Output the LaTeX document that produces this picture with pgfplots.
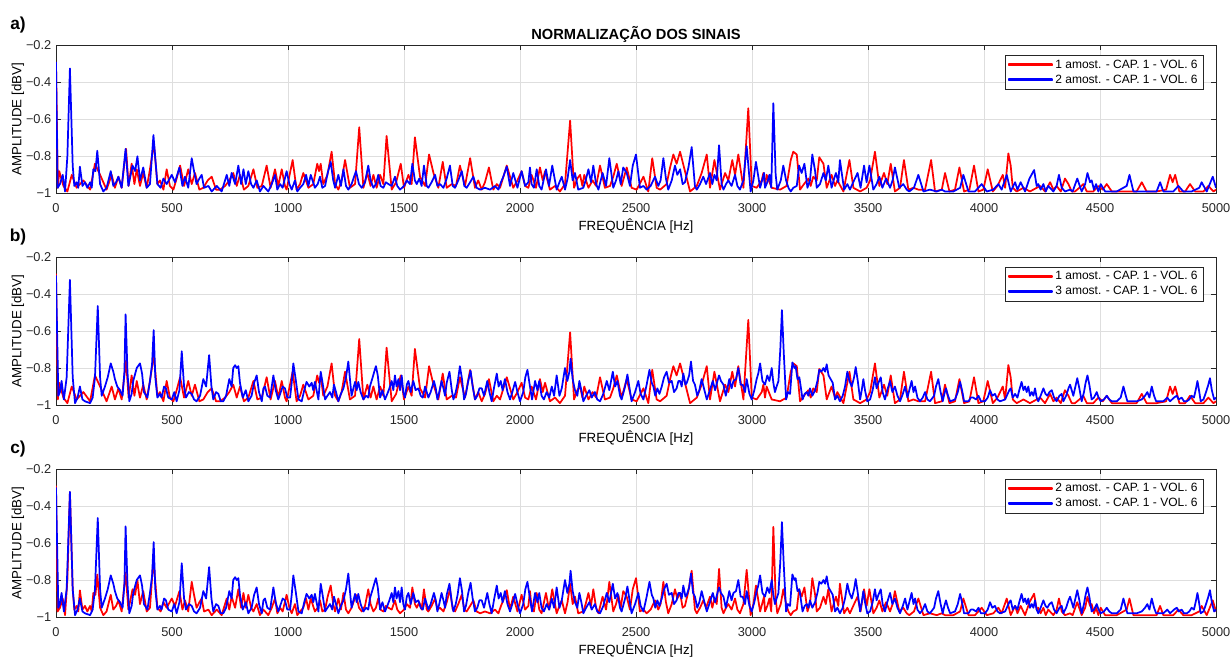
\documentclass[border=0pt]{standalone}
\usepackage{pgfplots}
\usepackage{pgfplotstable}
\pgfplotsset{compat=1.18}
\usepackage{fontspec}
\setmainfont{Liberation Sans}

% sample 1 (cap. 1, vol. 6)
\pgfplotstableread[row sep=\\]{
x y\\ 0 -0.29\\ 8 -0.97\\ 14 -0.88\\ 32 -0.96\\ 49 -0.99\\ 68 -0.90\\ 89 -0.97\\ 118 -0.93\\ 147 -0.98\\ 168 -0.84\\ 190 -0.90\\ 218 -0.98\\ 240 -0.90\\ 254 -0.97\\ 269 -0.91\\ 283 -0.97\\ 302 -0.76\\ 313 -0.96\\ 326 -0.84\\ 338 -0.95\\ 348 -0.87\\ 362 -0.96\\ 376 -0.89\\ 391 -0.97\\ 405 -0.87\\ 422 -0.73\\ 437 -0.95\\ 448 -0.93\\ 463 -0.98\\ 477 -0.87\\ 491 -0.96\\ 506 -0.98\\ 520 -0.92\\ 535 -0.85\\ 552 -0.96\\ 570 -0.87\\ 585 -0.95\\ 599 -0.89\\ 618 -0.98\\ 635 -0.97\\ 654 -0.93\\ 671 -0.91\\ 690 -0.98\\ 707 -0.98\\ 729 -0.96\\ 747 -0.93\\ 764 -0.89\\ 779 -0.96\\ 793 -0.90\\ 810 -0.98\\ 829 -0.96\\ 851 -0.87\\ 868 -0.97\\ 887 -0.96\\ 908 -0.85\\ 925 -0.97\\ 944 -0.87\\ 958 -0.96\\ 973 -0.87\\ 987 -0.96\\
994 -0.98\\ 1020 -0.82\\ 1037 -0.98\\ 1052 -0.95\\ 1066 -0.89\\ 1088 -0.97\\ 1109 -0.95\\ 1126 -0.84\\ 1134 -0.88\\ 1141 -0.84\\ 1152 -0.95\\ 1170 -0.90\\ 1188 -0.775\\ 1203 -0.95\\ 1217 -0.98\\ 1231 -0.93\\ 1246 -0.82\\ 1267 -0.97\\ 1289 -0.95\\ 1307 -0.643\\ 1325 -0.97\\ 1342 -0.89\\ 1356 -0.96\\ 1368 -0.90\\ 1382 -0.97\\ 1397 -0.90\\ 1411 -0.95\\ 1425 -0.69\\ 1447 -0.98\\ 1466 -0.94\\ 1486 -0.84\\ 1500 -0.97\\ 1519 -0.90\\ 1533 -0.95\\ 1547 -0.697\\ 1569 -0.91\\ 1591 -0.96\\ 1608 -0.79\\ 1627 -0.89\\ 1648 -0.97\\ 1667 -0.83\\ 1684 -0.97\\ 1706 -0.95\\ 1724 -0.96\\ 1741 -0.85\\ 1763 -0.96\\ 1785 -0.81\\ 1806 -0.97\\ 1820 -0.93\\ 1835 -0.98\\ 1849 -0.94\\ 1866 -0.86\\ 1885 -0.98\\ 1900 -0.95\\ 1914 -0.97\\ 1943 -0.85\\ 1971 -0.97\\ 1989 -0.93\\ 2007 -0.88\\ 2022 -0.96\\ 2036 -0.97\\
2050 -0.90\\ 2069 -0.97\\ 2086 -0.86\\ 2098 -0.93\\ 2108 -0.88\\ 2129 -0.98\\ 2151 -0.96\\ 2172 -0.99\\ 2194 -0.95\\ 2216 -0.607\\ 2233 -0.97\\ 2247 -0.92\\ 2259 -0.90\\ 2269 -0.96\\ 2277 -0.90\\ 2295 -0.97\\ 2313 -0.93\\ 2328 -0.96\\ 2345 -0.85\\ 2366 -0.97\\ 2388 -0.96\\ 2402 -0.91\\ 2417 -0.84\\ 2438 -0.96\\ 2460 -0.86\\ 2481 -0.97\\ 2503 -0.98\\ 2532 -0.91\\ 2553 -0.99\\ 2570 -0.81\\ 2589 -0.97\\ 2604 -0.98\\ 2632 -0.95\\ 2647 -0.86\\ 2661 -0.79\\ 2675 -0.84\\ 2690 -0.775\\ 2711 -0.88\\ 2733 -0.99\\ 2762 -0.96\\ 2783 -0.89\\ 2805 -0.79\\ 2819 -0.97\\ 2838 -0.82\\ 2862 -0.98\\ 2884 -0.89\\ 2898 -0.93\\ 2915 -0.82\\ 2927 -0.90\\ 2941 -0.79\\ 2963 -0.97\\ 2984 -0.54\\ 2999 -0.96\\ 3020 -0.97\\ 3042 -0.93\\
3049 -0.89\\ 3056 -0.96\\ 3063 -0.90\\ 3085 -0.97\\ 3121 -0.98\\ 3149 -0.96\\ 3167 -0.82\\ 3178 -0.775\\ 3193 -0.79\\ 3207 -0.98\\ 3224 -0.95\\ 3243 -0.92\\ 3253 -0.96\\ 3264 -0.91\\ 3279 -0.93\\ 3290 -0.805\\ 3308 -0.84\\ 3322 -0.97\\ 3343 -0.90\\ 3358 -0.96\\ 3368 -0.93\\ 3394 -0.99\\ 3420 -0.82\\ 3437 -0.97\\ 3466 -0.99\\ 3494 -0.97\\ 3509 -0.93\\ 3530 -0.775\\ 3549 -0.96\\ 3569 -0.89\\ 3583 -0.95\\ 3598 -0.84\\ 3616 -0.99\\ 3638 -0.97\\ 3655 -0.82\\ 3674 -0.98\\ 3696 -0.97\\ 3717 -0.98\\ 3746 -0.98\\ 3772 -0.82\\ 3789 -0.99\\ 3818 -0.98\\ 3832 -0.89\\ 3851 -0.99\\ 3875 -0.98\\ 3894 -0.86\\ 3914 -0.99\\ 3937 -0.98\\ 3957 -0.85\\ 3976 -0.99\\ 3997 -0.98\\ 4016 -0.87\\ 4038 -0.99\\ 4058 -0.96\\ 4081 -0.90\\ 4091 -0.97\\
4105 -0.784\\ 4115 -0.85\\ 4124 -0.97\\ 4141 -0.99\\ 4170 -0.97\\ 4198 -0.99\\ 4242 -0.96\\ 4263 -0.99\\ 4285 -0.94\\ 4299 -0.98\\ 4313 -0.96\\ 4331 -0.99\\ 4349 -0.92\\ 4364 -0.95\\ 4378 -0.99\\ 4392 -0.99\\ 4411 -0.97\\ 4428 -0.95\\ 4443 -0.99\\ 4471 -0.99\\ 4493 -0.96\\ 4512 -0.98\\ 4529 -0.95\\ 4551 -0.99\\ 4601 -0.99\\ 4658 -0.99\\ 4680 -0.94\\ 4701 -0.99\\ 4744 -0.99\\ 4785 -0.98\\ 4802 -0.90\\ 4813 -0.94\\ 4824 -0.90\\ 4842 -0.99\\ 4867 -0.99\\ 4888 -0.95\\ 4910 -0.99\\ 4946 -0.99\\ 4967 -0.96\\ 4989 -0.99\\ 5000 -0.98\\
}\sampleA

% sample 2 (cap. 1, vol. 6)
\pgfplotstableread[row sep=\\]{
x y\\ 0 -0.29\\ 7 -0.97\\ 17 -0.95\\ 29 -0.90\\ 39 -0.99\\ 49 -0.80\\ 60 -0.325\\ 72 -0.85\\ 79 -0.96\\ 89 -0.94\\ 96 -0.97\\ 103 -0.856\\ 114 -0.96\\ 125 -0.94\\ 135 -0.97\\ 147 -0.94\\ 154 -0.97\\ 161 -0.87\\ 170 -0.88\\ 178 -0.77\\ 190 -0.95\\ 204 -0.99\\ 218 -0.97\\ 236 -0.88\\ 247 -0.96\\ 259 -0.94\\ 269 -0.91\\ 283 -0.97\\ 300 -0.76\\ 312 -0.96\\ 322 -0.90\\ 330 -0.85\\ 341 -0.88\\ 351 -0.80\\ 362 -0.93\\ 376 -0.86\\ 391 -0.97\\ 405 -0.95\\ 420 -0.685\\ 437 -0.95\\ 451 -0.97\\ 463 -0.92\\ 477 -0.95\\ 499 -0.90\\ 513 -0.94\\ 532 -0.86\\ 545 -0.96\\ 556 -0.91\\ 570 -0.97\\ 585 -0.81\\ 595 -0.88\\ 606 -0.95\\ 618 -0.92\\ 628 -0.90\\ 638 -0.97\\ 657 -0.96\\ 671 -0.99\\ 693 -0.96\\ 714 -0.99\\ 736 -0.90\\ 747 -0.96\\ 757 -0.89\\ 772 -0.95\\ 786 -0.85\\ 798 -0.95\\ 808 -0.87\\ 818 -0.95\\ 829 -0.88\\ 841 -0.95\\ 851 -0.97\\ 865 -0.93\\ 879 -0.99\\ 894 -0.96\\ 915 -0.99\\ 930 -0.95\\ 944 -0.90\\ 954 -0.98\\ 966 -0.95\\ 977 -0.97\\ 994 -0.88\\
1006 -0.95\\ 1016 -0.98\\ 1030 -0.93\\ 1040 -0.99\\ 1052 -0.97\\ 1066 -0.95\\ 1078 -0.90\\ 1088 -0.96\\ 1098 -0.90\\ 1116 -0.97\\ 1128 -0.95\\ 1138 -0.91\\ 1148 -0.97\\ 1160 -0.96\\ 1171 -0.89\\ 1184 -0.83\\ 1195 -0.93\\ 1203 -0.97\\ 1217 -0.90\\ 1228 -0.96\\ 1239 -0.87\\ 1250 -0.96\\ 1260 -0.98\\ 1274 -0.95\\ 1293 -0.88\\ 1306 -0.95\\ 1318 -0.97\\ 1332 -0.94\\ 1346 -0.85\\ 1356 -0.93\\ 1368 -0.97\\ 1379 -0.95\\ 1389 -0.90\\ 1399 -0.96\\ 1411 -0.97\\ 1422 -0.94\\ 1433 -0.95\\ 1447 -0.96\\ 1461 -0.91\\ 1471 -0.96\\ 1483 -0.98\\ 1500 -0.96\\ 1512 -0.93\\ 1526 -0.95\\ 1536 -0.84\\ 1547 -0.93\\ 1555 -0.95\\ 1566 -0.92\\ 1576 -0.96\\ 1586 -0.85\\ 1598 -0.96\\ 1605 -0.97\\ 1619 -0.94\\ 1634 -0.90\\ 1644 -0.96\\ 1655 -0.95\\ 1670 -0.97\\ 1684 -0.92\\ 1698 -0.85\\ 1710 -0.96\\ 1720 -0.97\\ 1734 -0.93\\ 1749 -0.88\\ 1760 -0.96\\ 1770 -0.97\\ 1785 -0.94\\ 1799 -0.91\\ 1813 -0.97\\ 1828 -0.98\\ 1849 -0.97\\ 1871 -0.98\\ 1892 -0.96\\ 1907 -0.98\\ 1918 -0.94\\ 1928 -0.91\\ 1943 -0.855\\ 1957 -0.96\\ 1971 -0.89\\ 1989 -0.97\\ 2007 -0.88\\ 2022 -0.96\\ 2036 -0.94\\
2043 -0.86\\ 2050 -0.95\\ 2060 -0.97\\ 2072 -0.87\\ 2083 -0.96\\ 2093 -0.98\\ 2112 -0.87\\ 2125 -0.96\\ 2139 -0.85\\ 2158 -0.98\\ 2170 -0.94\\ 2180 -0.91\\ 2194 -0.98\\ 2205 -0.92\\ 2216 -0.82\\ 2227 -0.93\\ 2237 -0.89\\ 2251 -0.98\\ 2273 -0.97\\ 2283 -0.93\\ 2295 -0.87\\ 2306 -0.94\\ 2316 -0.85\\ 2328 -0.95\\ 2338 -0.98\\ 2356 -0.89\\ 2371 -0.96\\ 2385 -0.81\\ 2402 -0.97\\ 2414 -0.93\\ 2424 -0.88\\ 2434 -0.95\\ 2445 -0.86\\ 2460 -0.89\\ 2474 -0.96\\ 2486 -0.85\\ 2500 -0.79\\ 2517 -0.97\\ 2532 -0.96\\ 2546 -0.98\\ 2563 -0.96\\ 2582 -0.91\\ 2596 -0.96\\ 2606 -0.93\\ 2618 -0.81\\ 2629 -0.92\\ 2639 -0.98\\ 2654 -0.93\\ 2668 -0.85\\ 2678 -0.90\\ 2690 -0.87\\ 2701 -0.95\\ 2711 -0.94\\ 2726 -0.86\\ 2740 -0.75\\ 2754 -0.96\\ 2762 -0.98\\ 2776 -0.95\\ 2790 -0.91\\ 2802 -0.95\\ 2819 -0.89\\ 2829 -0.95\\ 2838 -0.90\\ 2848 -0.93\\ 2858 -0.74\\ 2869 -0.95\\ 2877 -0.98\\ 2888 -0.95\\ 2898 -0.93\\ 2912 -0.96\\ 2927 -0.90\\ 2937 -0.96\\ 2948 -0.98\\ 2963 -0.93\\ 2977 -0.745\\ 2994 -0.99\\ 3006 -0.93\\ 3017 -0.83\\ 3035 -0.97\\ 3052 -0.89\\
3056 -0.97\\ 3066 -0.94\\ 3075 -0.90\\ 3083 -0.97\\ 3092 -0.513\\ 3102 -0.90\\ 3109 -0.98\\ 3124 -0.93\\ 3135 -0.85\\ 3147 -0.93\\ 3157 -0.97\\ 3167 -0.99\\ 3178 -0.97\\ 3193 -0.96\\ 3203 -0.85\\ 3214 -0.89\\ 3226 -0.84\\ 3239 -0.97\\ 3250 -0.93\\ 3260 -0.79\\ 3272 -0.88\\ 3279 -0.97\\ 3293 -0.95\\ 3308 -0.89\\ 3318 -0.93\\ 3329 -0.85\\ 3343 -0.97\\ 3354 -0.92\\ 3362 -0.89\\ 3372 -0.94\\ 3379 -0.82\\ 3397 -0.98\\ 3411 -0.95\\ 3422 -0.98\\ 3440 -0.93\\ 3455 -0.89\\ 3468 -0.97\\ 3483 -0.85\\ 3494 -0.94\\ 3506 -0.85\\ 3523 -0.98\\ 3537 -0.95\\ 3549 -0.91\\ 3562 -0.97\\ 3578 -0.92\\ 3595 -0.97\\ 3606 -0.93\\ 3616 -0.86\\ 3635 -0.97\\ 3652 -0.95\\ 3667 -0.98\\ 3678 -0.99\\ 3698 -0.97\\ 3717 -0.90\\ 3739 -0.99\\ 3767 -0.98\\ 3796 -0.99\\ 3818 -0.98\\ 3832 -0.99\\ 3868 -0.99\\ 3897 -0.97\\ 3911 -0.90\\ 3933 -0.99\\ 3961 -0.99\\ 3990 -0.95\\ 4012 -0.99\\ 4040 -0.98\\ 4062 -0.95\\ 4076 -0.98\\ 4098 -0.90\\
4115 -0.99\\ 4134 -0.94\\ 4144 -0.98\\ 4158 -0.94\\ 4177 -0.99\\ 4196 -0.92\\ 4216 -0.874\\ 4227 -0.96\\ 4234 -0.95\\ 4244 -0.98\\ 4256 -0.95\\ 4266 -0.99\\ 4277 -0.96\\ 4299 -0.99\\ 4313 -0.96\\ 4323 -0.90\\ 4335 -0.97\\ 4349 -0.99\\ 4371 -0.98\\ 4382 -0.99\\ 4402 -0.92\\ 4421 -0.99\\ 4436 -0.95\\ 4446 -0.89\\ 4457 -0.94\\ 4464 -0.93\\ 4474 -0.98\\ 4483 -0.95\\ 4493 -0.99\\ 4503 -0.95\\ 4522 -0.99\\ 4572 -0.99\\ 4615 -0.96\\ 4627 -0.90\\ 4644 -0.99\\ 4687 -0.99\\ 4744 -0.99\\ 4759 -0.94\\ 4773 -0.99\\ 4816 -0.99\\ 4838 -0.96\\ 4859 -0.99\\ 4895 -0.99\\ 4928 -0.97\\ 4938 -0.94\\ 4960 -0.99\\ 4986 -0.91\\ 5000 -0.97\\
}\sampleB

% sample 3 (cap. 1, vol. 6)
\pgfplotstableread[row sep=\\]{
x y\\ 0 -0.30\\ 10 -0.95\\ 17 -0.93\\ 24 -0.87\\ 34 -0.97\\ 46 -0.85\\ 60 -0.324\\ 72 -0.85\\ 82 -0.99\\ 93 -0.96\\ 103 -0.90\\ 114 -0.97\\ 125 -0.98\\ 147 -0.99\\ 158 -0.96\\ 168 -0.85\\ 180 -0.465\\ 190 -0.85\\ 197 -0.95\\ 211 -0.90\\ 223 -0.85\\ 236 -0.775\\ 247 -0.82\\ 254 -0.86\\ 264 -0.90\\ 276 -0.92\\ 287 -0.95\\ 295 -0.82\\ 300 -0.51\\ 308 -0.82\\ 316 -0.98\\ 326 -0.94\\ 333 -0.87\\ 348 -0.80\\ 362 -0.775\\ 371 -0.83\\ 379 -0.93\\ 394 -0.96\\ 405 -0.87\\ 414 -0.78\\ 421 -0.595\\ 428 -0.85\\ 437 -0.96\\ 448 -0.94\\ 455 -0.96\\ 466 -0.90\\ 474 -0.91\\ 484 -0.96\\ 499 -0.97\\ 510 -0.93\\ 520 -0.98\\ 532 -0.92\\ 542 -0.71\\ 552 -0.90\\ 560 -0.96\\ 573 -0.93\\ 585 -0.94\\ 595 -0.97\\ 606 -0.98\\ 621 -0.95\\ 635 -0.86\\ 647 -0.90\\ 660 -0.73\\ 670 -0.90\\ 678 -0.97\\ 690 -0.93\\ 700 -0.94\\ 710 -0.98\\ 721 -0.98\\ 733 -0.95\\ 747 -0.86\\ 757 -0.90\\ 764 -0.80\\ 772 -0.785\\ 779 -0.80\\ 786 -0.79\\ 793 -0.88\\ 805 -0.96\\ 818 -0.92\\ 829 -0.98\\ 843 -0.95\\ 854 -0.88\\ 865 -0.84\\ 875 -0.93\\ 887 -0.98\\ 894 -0.91\\ 901 -0.90\\ 911 -0.95\\ 923 -0.96\\ 930 -0.90\\ 937 -0.84\\ 947 -0.92\\ 958 -0.97\\ 969 -0.93\\ 977 -0.90\\ 987 -0.91\\ 997 -0.96\\
1009 -0.96\\ 1016 -0.88\\ 1023 -0.775\\ 1033 -0.86\\ 1045 -0.97\\ 1059 -0.98\\ 1070 -0.92\\ 1080 -0.875\\ 1092 -0.90\\ 1102 -0.88\\ 1109 -0.92\\ 1116 -0.875\\ 1131 -0.97\\ 1141 -0.82\\ 1149 -0.88\\ 1160 -0.97\\ 1170 -0.95\\ 1181 -0.93\\ 1191 -0.96\\ 1198 -0.89\\ 1207 -0.93\\ 1217 -0.98\\ 1228 -0.94\\ 1239 -0.91\\ 1250 -0.85\\ 1260 -0.765\\ 1267 -0.86\\ 1274 -0.95\\ 1282 -0.91\\ 1289 -0.875\\ 1296 -0.92\\ 1303 -0.875\\ 1313 -0.93\\ 1325 -0.97\\ 1336 -0.95\\ 1346 -0.96\\ 1353 -0.90\\ 1365 -0.85\\ 1374 -0.81\\ 1379 -0.79\\ 1387 -0.84\\ 1397 -0.96\\ 1407 -0.92\\ 1418 -0.97\\ 1428 -0.94\\ 1437 -0.91\\ 1447 -0.87\\ 1454 -0.92\\ 1461 -0.84\\ 1468 -0.90\\ 1476 -0.86\\ 1483 -0.92\\ 1490 -0.84\\ 1497 -0.93\\ 1504 -0.96\\ 1512 -0.89\\ 1519 -0.87\\ 1529 -0.93\\ 1540 -0.87\\ 1550 -0.92\\ 1562 -0.91\\ 1572 -0.95\\ 1581 -0.96\\ 1591 -0.90\\ 1598 -0.93\\ 1605 -0.96\\ 1615 -0.93\\ 1629 -0.87\\ 1637 -0.91\\ 1644 -0.97\\ 1652 -0.93\\ 1662 -0.87\\ 1670 -0.91\\ 1677 -0.95\\ 1684 -0.88\\ 1696 -0.82\\ 1706 -0.92\\ 1713 -0.97\\ 1723 -0.93\\ 1731 -0.88\\ 1741 -0.79\\ 1750 -0.86\\ 1759 -0.97\\ 1767 -0.94\\ 1777 -0.87\\ 1787 -0.815\\ 1796 -0.90\\ 1806 -0.97\\ 1816 -0.95\\ 1825 -0.91\\ 1835 -0.91\\ 1845 -0.95\\ 1859 -0.87\\ 1868 -0.93\\ 1878 -0.98\\ 1889 -0.90\\ 1900 -0.83\\ 1908 -0.90\\ 1917 -0.87\\ 1925 -0.92\\ 1935 -0.86\\ 1946 -0.93\\ 1957 -0.97\\ 1967 -0.93\\ 1979 -0.875\\ 1989 -0.93\\ 2000 -0.98\\ 2014 -0.93\\ 2023 -0.85\\ 2032 -0.81\\
2043 -0.90\\ 2052 -0.97\\ 2065 -0.87\\ 2075 -0.92\\ 2083 -0.87\\ 2093 -0.95\\ 2103 -0.97\\ 2115 -0.93\\ 2126 -0.96\\ 2137 -0.90\\ 2147 -0.95\\ 2158 -0.84\\ 2170 -0.95\\ 2180 -0.91\\ 2194 -0.80\\ 2204 -0.87\\ 2213 -0.82\\ 2218 -0.75\\ 2227 -0.86\\ 2237 -0.92\\ 2247 -0.95\\ 2256 -0.87\\ 2266 -0.93\\ 2273 -0.98\\ 2285 -0.95\\ 2299 -0.92\\ 2309 -0.96\\ 2323 -0.93\\ 2333 -0.97\\ 2345 -0.98\\ 2359 -0.94\\ 2374 -0.87\\ 2385 -0.92\\ 2400 -0.82\\ 2410 -0.90\\ 2420 -0.87\\ 2431 -0.95\\ 2438 -0.97\\ 2453 -0.90\\ 2463 -0.835\\ 2471 -0.90\\ 2481 -0.98\\ 2496 -0.93\\ 2510 -0.87\\ 2520 -0.94\\ 2532 -0.97\\ 2546 -0.89\\ 2558 -0.81\\ 2568 -0.88\\ 2575 -0.90\\ 2583 -0.95\\ 2592 -0.91\\ 2601 -0.94\\ 2611 -0.90\\ 2621 -0.85\\ 2632 -0.82\\ 2642 -0.88\\ 2654 -0.87\\ 2664 -0.93\\ 2675 -0.91\\ 2683 -0.87\\ 2690 -0.87\\ 2697 -0.90\\ 2704 -0.83\\ 2713 -0.89\\ 2719 -0.88\\ 2729 -0.84\\ 2737 -0.765\\ 2746 -0.87\\ 2754 -0.89\\ 2764 -0.95\\ 2773 -0.92\\ 2783 -0.86\\ 2793 -0.91\\ 2805 -0.97\\ 2816 -0.93\\ 2831 -0.87\\ 2841 -0.92\\ 2851 -0.87\\ 2858 -0.84\\ 2866 -0.87\\ 2877 -0.89\\ 2887 -0.95\\ 2894 -0.91\\ 2902 -0.86\\ 2912 -0.91\\ 2920 -0.87\\ 2931 -0.86\\ 2941 -0.80\\ 2951 -0.89\\ 2960 -0.89\\ 2970 -0.93\\ 2977 -0.86\\ 2989 -0.94\\ 2999 -0.97\\ 3010 -0.92\\ 3020 -0.86\\ 3027 -0.83\\ 3035 -0.775\\ 3045 -0.87\\ 3056 -0.89\\ 3066 -0.84\\ 3075 -0.87\\
3085 -0.80\\ 3092 -0.88\\ 3099 -0.93\\ 3106 -0.90\\ 3114 -0.87\\ 3122 -0.70\\ 3129 -0.487\\ 3137 -0.72\\ 3147 -0.97\\ 3155 -0.93\\ 3164 -0.94\\ 3174 -0.77\\ 3183 -0.80\\ 3188 -0.79\\ 3196 -0.86\\ 3204 -0.85\\ 3210 -0.90\\ 3218 -0.97\\ 3227 -0.94\\ 3236 -0.93\\ 3243 -0.95\\ 3250 -0.91\\ 3260 -0.95\\ 3272 -0.92\\ 3282 -0.87\\ 3290 -0.81\\ 3299 -0.82\\ 3308 -0.80\\ 3315 -0.82\\ 3322 -0.78\\ 3330 -0.84\\ 3339 -0.86\\ 3348 -0.88\\ 3358 -0.97\\ 3368 -0.95\\ 3379 -0.98\\ 3391 -0.95\\ 3401 -0.90\\ 3411 -0.82\\ 3420 -0.87\\ 3430 -0.90\\ 3440 -0.85\\ 3447 -0.795\\ 3456 -0.87\\ 3466 -0.97\\ 3473 -0.92\\ 3480 -0.86\\ 3487 -0.92\\ 3497 -0.98\\ 3509 -0.97\\ 3520 -0.92\\ 3530 -0.85\\ 3537 -0.91\\ 3545 -0.88\\ 3555 -0.85\\ 3563 -0.93\\ 3573 -0.97\\ 3583 -0.92\\ 3595 -0.87\\ 3605 -0.93\\ 3616 -0.90\\ 3627 -0.95\\ 3638 -0.98\\ 3650 -0.94\\ 3660 -0.90\\ 3670 -0.96\\ 3678 -0.92\\ 3688 -0.87\\ 3696 -0.93\\ 3703 -0.90\\ 3713 -0.96\\ 3724 -0.98\\ 3736 -0.96\\ 3746 -0.93\\ 3756 -0.97\\ 3767 -0.98\\ 3785 -0.95\\ 3793 -0.90\\ 3803 -0.86\\ 3813 -0.93\\ 3822 -0.98\\ 3829 -0.94\\ 3836 -0.91\\ 3845 -0.95\\ 3854 -0.98\\ 3875 -0.97\\ 3887 -0.93\\ 3897 -0.875\\ 3907 -0.93\\ 3914 -0.98\\ 3933 -0.98\\ 3943 -0.96\\ 3954 -0.96\\ 3966 -0.97\\ 3976 -0.95\\ 3987 -0.98\\ 4004 -0.98\\ 4016 -0.96\\ 4026 -0.92\\ 4036 -0.95\\ 4047 -0.94\\ 4058 -0.97\\ 4069 -0.98\\ 4091 -0.97\\ 4109 -0.92\\
4115 -0.91\\ 4124 -0.96\\ 4134 -0.94\\ 4144 -0.96\\ 4152 -0.92\\ 4162 -0.875\\ 4170 -0.92\\ 4177 -0.90\\ 4184 -0.93\\ 4191 -0.90\\ 4198 -0.95\\ 4206 -0.93\\ 4213 -0.95\\ 4220 -0.91\\ 4227 -0.96\\ 4234 -0.98\\ 4244 -0.95\\ 4256 -0.91\\ 4265 -0.94\\ 4273 -0.95\\ 4282 -0.93\\ 4292 -0.92\\ 4302 -0.96\\ 4313 -0.98\\ 4325 -0.95\\ 4335 -0.94\\ 4342 -0.98\\ 4354 -0.95\\ 4364 -0.91\\ 4371 -0.89\\ 4378 -0.92\\ 4385 -0.95\\ 4394 -0.90\\ 4402 -0.855\\ 4411 -0.91\\ 4421 -0.98\\ 4431 -0.93\\ 4438 -0.88\\ 4446 -0.84\\ 4454 -0.89\\ 4464 -0.97\\ 4474 -0.96\\ 4486 -0.93\\ 4494 -0.96\\ 4503 -0.98\\ 4517 -0.97\\ 4529 -0.95\\ 4540 -0.97\\ 4551 -0.98\\ 4572 -0.98\\ 4589 -0.96\\ 4601 -0.90\\ 4609 -0.94\\ 4618 -0.98\\ 4637 -0.98\\ 4658 -0.98\\ 4680 -0.97\\ 4694 -0.95\\ 4704 -0.93\\ 4713 -0.96\\ 4723 -0.90\\ 4733 -0.95\\ 4742 -0.98\\ 4759 -0.98\\ 4773 -0.98\\ 4790 -0.96\\ 4802 -0.98\\ 4819 -0.96\\ 4831 -0.95\\ 4839 -0.97\\ 4852 -0.96\\ 4862 -0.98\\ 4874 -0.98\\ 4885 -0.97\\ 4895 -0.95\\ 4905 -0.96\\ 4914 -0.91\\ 4920 -0.87\\ 4928 -0.93\\ 4934 -0.98\\ 4946 -0.97\\ 4957 -0.93\\ 4967 -0.89\\ 4974 -0.855\\ 4982 -0.92\\ 4992 -0.97\\ 5000 -0.96\\
}\sampleC

\definecolor{axisgray}{gray}{0.15}
\pgfplotsset{
  panel/.style={
    scale only axis, width=870pt, height=111pt,
    xmin=0, xmax=5000, ymin=-1, ymax=-0.2,
    xtick={0,500,1000,1500,2000,2500,3000,3500,4000,4500,5000},
    xticklabels={0,500,1000,1500,2000,2500,3000,3500,4000,4500,5000},
    ytick={-1,-0.8,-0.6,-0.4,-0.2},
    yticklabels={−1,−0.8,−0.6,−0.4,−0.2},
    tick align=inside, major tick length=3.8pt,
    xmajorgrids, ymajorgrids,
    grid style={color=black!13, line width=0.6pt},
    axis line style={color=axisgray, line width=0.6pt},
    every tick/.style={color=axisgray, line width=0.6pt},
    tick label style={color=axisgray, font=\fontsize{9.6}{11.5}\selectfont},
    xticklabel style={yshift=-4.3pt},
    label style={color=axisgray, font=\fontsize{11.8}{14}\selectfont},
    xlabel={FREQUÊNCIA [Hz]},
    ylabel={AMPLITUDE [dBV]},
    every axis x label/.style={at={(axis description cs:0.5,0)}, anchor=center, yshift=-24.8pt},
    every axis y label/.style={at={(axis description cs:-0.0328,0.5)}, anchor=center, rotate=90},
    legend style={at={(1,1)}, anchor=north east, xshift=-9.5pt, yshift=-7.3pt,
      draw=axisgray, line width=0.5pt, fill=white,
      font=\fontsize{9}{10.5}\selectfont,
      inner xsep=2pt, inner ysep=1.2pt, row sep=-0.5pt},
    legend cell align=left,
    every axis plot/.append style={line width=1.3pt, line join=round, no marks},
  },
  % series styles; the legend key is a thin bar in the series colour
  redseries/.style={red,
    legend image code/.code={\fill[red] (0pt,-0.5pt) rectangle (32pt,0.5pt);}},
  blueseries/.style={blue,
    legend image code/.code={\fill[blue] (0pt,-0.5pt) rectangle (32pt,0.5pt);}},
}

\begin{document}
\begin{tikzpicture}
\useasboundingbox (0,0) rectangle (924pt,-492.75pt);

% a) sample 1 against sample 2
\begin{axis}[panel, at={(42pt,-145pt)}, anchor=south west]
  \addplot[redseries] table {\sampleA};
  \addplot[blueseries] table {\sampleB};
  \legend{1 amost. - CAP. 1 - VOL. 6, 2 amost. - CAP. 1 - VOL. 6}
\end{axis}

% b) sample 1 against sample 3
\begin{axis}[panel, at={(42pt,-303.75pt)}, anchor=south west]
  \addplot[redseries] table {\sampleA};
  \addplot[blueseries] table {\sampleC};
  \legend{1 amost. - CAP. 1 - VOL. 6, 3 amost. - CAP. 1 - VOL. 6}
\end{axis}

% c) sample 2 against sample 3
\begin{axis}[panel, at={(42pt,-462.75pt)}, anchor=south west]
  \addplot[redseries] table {\sampleB};
  \addplot[blueseries] table {\sampleC};
  \legend{2 amost. - CAP. 1 - VOL. 6, 3 amost. - CAP. 1 - VOL. 6}
\end{axis}

\node[font=\bfseries\fontsize{11}{13}\selectfont, text=black] at (477pt,-25.5pt) {NORMALIZAÇÃO DOS SINAIS};
\node[font=\bfseries\fontsize{13}{15}\selectfont] at (13.5pt,-18.75pt) {a)};
\node[font=\bfseries\fontsize{13}{15}\selectfont] at (13.5pt,-177.5pt) {b)};
\node[font=\bfseries\fontsize{13}{15}\selectfont] at (13.5pt,-336.5pt) {c)};
\end{tikzpicture}
\end{document}
